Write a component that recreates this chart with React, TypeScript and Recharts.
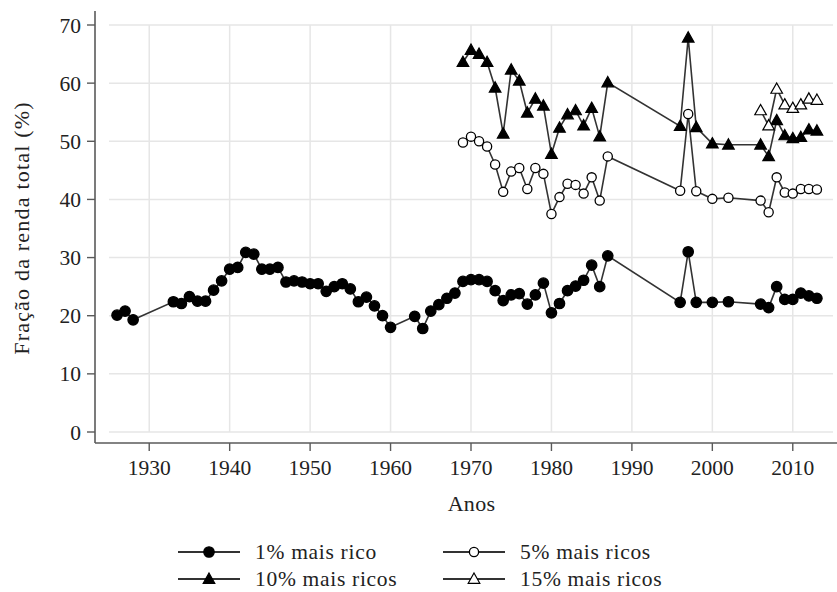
// Participação dos mais ricos na renda total (%), por ano.
// Eixos deslocados da área de dados (estilo Stata), grade clara, legenda 2x2 embaixo.
import React from "react";
import { LineChart, Line, XAxis, YAxis, ReferenceLine } from "recharts";

const ANOS_1 = [
  1926, 1927, 1928,
  1933, 1934, 1935, 1936, 1937, 1938, 1939, 1940, 1941, 1942, 1943, 1944, 1945, 1946,
  1947, 1948, 1949, 1950, 1951, 1952, 1953, 1954, 1955, 1956, 1957, 1958, 1959, 1960,
  1963, 1964, 1965, 1966, 1967, 1968, 1969, 1970, 1971, 1972, 1973, 1974, 1975, 1976,
  1977, 1978, 1979, 1980, 1981, 1982, 1983, 1984, 1985, 1986, 1987,
  1996, 1997, 1998, 2000, 2002, 2006, 2007, 2008, 2009, 2010, 2011, 2012, 2013,
];
const TOP_1 = [
  20.1, 20.8, 19.3,
  22.4, 22.1, 23.3, 22.5, 22.5, 24.4, 26.0, 28.0, 28.3, 30.9, 30.6, 28.0, 28.0, 28.3,
  25.8, 26.0, 25.8, 25.5, 25.5, 24.2, 25.0, 25.5, 24.6, 22.4, 23.2, 21.7, 20.0, 18.0,
  19.9, 17.8, 20.8, 21.9, 23.0, 23.9, 25.9, 26.2, 26.2, 25.9, 24.3, 22.6, 23.6, 23.8,
  22.0, 23.6, 25.6, 20.5, 22.1, 24.3, 25.1, 26.1, 28.7, 25.0, 30.3,
  22.3, 31.0, 22.3, 22.3, 22.4, 22.0, 21.4, 25.0, 22.8, 22.8, 23.9, 23.4, 23.0,
];

const ANOS_5_10 = [
  1969, 1970, 1971, 1972, 1973, 1974, 1975, 1976, 1977, 1978, 1979, 1980, 1981, 1982,
  1983, 1984, 1985, 1986, 1987,
  1996, 1997, 1998, 2000, 2002, 2006, 2007, 2008, 2009, 2010, 2011, 2012, 2013,
];
const TOP_5 = [
  49.8, 50.8, 50.0, 49.1, 46.0, 41.3, 44.8, 45.4, 41.8, 45.4, 44.4, 37.5, 40.4, 42.7,
  42.5, 41.0, 43.8, 39.8, 47.4,
  41.5, 54.7, 41.4, 40.1, 40.3, 39.8, 37.8, 43.8, 41.2, 41.0, 41.8, 41.8, 41.7,
];
const TOP_10 = [
  63.6, 65.7, 65.0, 63.6, 59.2, 51.3, 62.3, 60.4, 54.9, 57.3, 56.1, 47.8, 52.3, 54.6,
  55.3, 52.7, 55.7, 50.8, 60.1,
  52.6, 67.8, 52.4, 49.6, 49.4, 49.4, 47.4, 53.6, 51.0, 50.5, 50.7, 52.0, 51.8,
];

const ANOS_15 = [2006, 2007, 2008, 2009, 2010, 2011, 2012, 2013];
const TOP_15 = [55.3, 52.7, 59.0, 56.3, 55.7, 56.3, 57.3, 57.1];

const X_TICKS = [1930, 1940, 1950, 1960, 1970, 1980, 1990, 2000, 2010];
const Y_TICKS = [0, 10, 20, 30, 40, 50, 60, 70];
const X_DOMINIO: [number, number] = [1925, 2015];
const Y_DOMINIO: [number, number] = [0, 70];

const serie = (anos: number[], valores: number[]) => anos.map((ano, i) => ({ ano, v: valores[i] }));
const dados1 = serie(ANOS_1, TOP_1);
const dados5 = serie(ANOS_5_10, TOP_5);
const dados10 = serie(ANOS_5_10, TOP_10);
const dados15 = serie(ANOS_15, TOP_15);

const FONTE = "'Liberation Serif', 'Times New Roman', serif";
const COR_EIXO = "#5a5a5a";
const COR_GRADE = "#e6e6e6";
const COR_LINHA = "#333";
const COR_TEXTO = "#222";

type Forma = "circulo" | "triangulo";

function Marcador({ cx, cy, forma, cheio }: { cx?: number; cy?: number; forma: Forma; cheio: boolean }) {
  if (cx == null || cy == null) return null;
  const fill = cheio ? "#000" : "#fff";
  if (forma === "circulo") {
    return <circle cx={cx} cy={cy} r={cheio ? 5.2 : 4.6} fill={fill} stroke="#000" strokeWidth={1.3} />;
  }
  const d = `M${cx},${cy - 6} L${cx + 5.8},${cy + 4.3} L${cx - 5.8},${cy + 4.3} Z`;
  return <path d={d} fill={fill} stroke="#000" strokeWidth={1.2} />;
}

const dot = (forma: Forma, cheio: boolean) => (p: any) => (
  <Marcador key={`${forma}-${cheio}-${p.index}`} cx={p.cx} cy={p.cy} forma={forma} cheio={cheio} />
);

const LEGENDA: { nome: string; forma: Forma; cheio: boolean; x: number; y: number }[] = [
  { nome: "1% mais rico", forma: "circulo", cheio: true, x: 178, y: 552 },
  { nome: "5% mais ricos", forma: "circulo", cheio: false, x: 443, y: 552 },
  { nome: "10% mais ricos", forma: "triangulo", cheio: true, x: 178, y: 579 },
  { nome: "15% mais ricos", forma: "triangulo", cheio: false, x: 443, y: 579 },
];

export default function App() {
  const tickStyle = { fontSize: 21.5, fill: COR_TEXTO, fontFamily: FONTE };
  return (
    <div style={{ position: "absolute", left: 0, top: 0, width: 837, height: 592, overflow: "hidden", background: "#fff" }}>
      <LineChart width={860} height={592} margin={{ top: 11, right: 13, left: 0, bottom: 109 }}>
        <XAxis
          dataKey="ano" type="number" domain={X_DOMINIO} ticks={X_TICKS}
          padding={{ left: 14, right: 14 }} height={40}
          axisLine={{ stroke: COR_EIXO, strokeWidth: 1.6 }}
          tickLine={{ stroke: COR_EIXO, strokeWidth: 1.4 }} tickSize={8} tickMargin={9}
          tick={tickStyle} allowDuplicatedCategory={false}
        />
        <XAxis
          xAxisId="topo" orientation="top" type="number" domain={X_DOMINIO} height={0}
          axisLine={{ stroke: COR_EIXO, strokeWidth: 1.6 }} tick={false} tickLine={false}
        />
        <YAxis
          type="number" domain={Y_DOMINIO} ticks={Y_TICKS} width={95}
          padding={{ top: 14, bottom: 11 }}
          axisLine={{ stroke: COR_EIXO, strokeWidth: 1.6 }}
          tickLine={{ stroke: COR_EIXO, strokeWidth: 1.4 }} tickSize={8} tickMargin={6}
          tick={tickStyle}
        />
        {Y_TICKS.map(v => (
          <ReferenceLine key={`h${v}`} segment={[{ x: X_DOMINIO[0], y: v }, { x: X_DOMINIO[1], y: v }]}
            stroke={COR_GRADE} strokeWidth={1.5} />
        ))}
        {X_TICKS.map(a => (
          <ReferenceLine key={`v${a}`} segment={[{ x: a, y: Y_DOMINIO[0] }, { x: a, y: Y_DOMINIO[1] }]}
            stroke={COR_GRADE} strokeWidth={1.5} />
        ))}
        <Line data={dados1} dataKey="v" name="1% mais rico" type="linear" stroke={COR_LINHA} strokeWidth={1.6}
          dot={dot("circulo", true)} activeDot={false} isAnimationActive={false} />
        <Line data={dados10} dataKey="v" name="10% mais ricos" type="linear" stroke={COR_LINHA} strokeWidth={1.6}
          dot={dot("triangulo", true)} activeDot={false} isAnimationActive={false} />
        <Line data={dados5} dataKey="v" name="5% mais ricos" type="linear" stroke={COR_LINHA} strokeWidth={1.6}
          dot={dot("circulo", false)} activeDot={false} isAnimationActive={false} />
        <Line data={dados15} dataKey="v" name="15% mais ricos" type="linear" stroke={COR_LINHA} strokeWidth={1.6}
          dot={dot("triangulo", false)} activeDot={false} isAnimationActive={false} />
      </LineChart>

      {/* títulos dos eixos */}
      <div style={{
        position: "absolute", left: 471.5, top: 504, transform: "translate(-50%, -50%)",
        fontFamily: FONTE, fontSize: 22, color: COR_TEXTO, whiteSpace: "nowrap", letterSpacing: 0.3,
      }}>Anos</div>
      <div style={{
        position: "absolute", left: 22, top: 228, transform: "translate(-50%, -50%) rotate(-90deg)",
        fontFamily: FONTE, fontSize: 22, color: COR_TEXTO, whiteSpace: "nowrap", letterSpacing: 1.2,
      }}>Fração da renda total (%)</div>

      {/* legenda 2x2 */}
      {LEGENDA.map(item => (
        <div key={item.nome} style={{
          position: "absolute", left: item.x, top: item.y - 12, height: 24,
          display: "flex", alignItems: "center", fontFamily: FONTE, fontSize: 21.5, color: COR_TEXTO,
          whiteSpace: "nowrap", letterSpacing: 0.7, lineHeight: "24px",
        }}>
          <svg width={62} height={24} style={{ display: "block" }}>
            <line x1={0} y1={12} x2={62} y2={12} stroke={COR_LINHA} strokeWidth={1.8} />
            <Marcador cx={31} cy={12} forma={item.forma} cheio={item.cheio} />
          </svg>
          <span style={{ marginLeft: 15, lineHeight: "24px" }}>{item.nome}</span>
        </div>
      ))}
    </div>
  );
}
